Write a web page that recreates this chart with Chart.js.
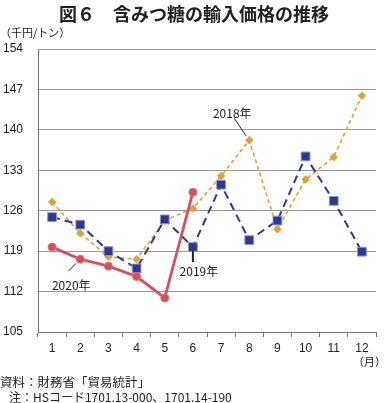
<!DOCTYPE html>
<html><head><meta charset="utf-8">
<script src="https://cdn.jsdelivr.net/npm/chart.js@4/dist/chart.umd.min.js"></script>
<style>
html,body{margin:0;padding:0;background:#fff;}
#wrap{position:relative;width:388px;height:403px;overflow:hidden;font-family:"Noto Sans CJK JP","Noto Sans",sans-serif;color:#222;}
#c{position:absolute;left:0;top:0;}
.t{position:absolute;white-space:nowrap;}
#title{left:0;width:388px;top:1px;text-align:center;font-size:18px;font-weight:bold;line-height:24px;}
#unit{left:0;top:25px;font-size:11px;line-height:14px;}
#mon{right:2px;top:354px;font-size:11px;line-height:14px;}
#src{left:0;top:374px;font-size:12.5px;line-height:15px;}
#note{left:9px;top:389px;font-size:12px;line-height:15px;}
</style></head>
<body><div id="wrap">
<canvas id="c" width="388" height="403"></canvas>
<div class="t" id="title">図６　含みつ糖の輸入価格の推移</div>
<div class="t" id="unit">（千円/トン）</div>
<div class="t" id="mon">（月）</div>
<div class="t" id="src">資料：財務省「貿易統計」</div>
<div class="t" id="note">注：HSコード1701.13-000、1701.14-190</div>
</div>
<script>
const months = ["1","2","3","4","5","6","7","8","9","10","11","12"];
const y2018 = [127.5,122.1,118.0,117.6,124.3,126.4,132.0,138.2,122.8,131.4,135.3,145.9];
const y2019 = [124.9,123.6,119.0,116.0,124.5,119.7,130.5,120.9,124.3,135.4,127.7,118.9];
const y2020 = [119.7,117.6,116.4,114.6,110.9,129.2];
const yTicks = [105,112,119,126,133,140,147,154];
const labels = {a:"2018年", b:"2019年", c:"2020年"};

const annot = {
  id:'annot',
  afterDatasetsDraw(chart){
    const {ctx, scales:{x,y}} = chart;
    ctx.save();
    ctx.font = '12px "Noto Sans CJK JP", sans-serif';
    ctx.fillStyle = '#222';
    ctx.textAlign = 'center';
    ctx.textBaseline = 'middle';
    // 2018
    let px = x.getPixelForValue(7), py = y.getPixelForValue(y2018[7]);
    ctx.strokeStyle = '#222'; ctx.lineWidth = 1;
    ctx.beginPath(); ctx.moveTo(px-3,py-4); ctx.lineTo(px-15,py-22); ctx.stroke();
    ctx.fillText(labels.a, px-17, py-27);
    // 2019
    px = x.getPixelForValue(5); py = y.getPixelForValue(y2019[5]);
    ctx.lineWidth = 2;
    ctx.beginPath(); ctx.moveTo(px, py+4); ctx.lineTo(px, py+15); ctx.stroke();
    ctx.fillText(labels.b, px+6, py+24);
    // 2020
    px = x.getPixelForValue(1); py = y.getPixelForValue(y2020[1]);
    ctx.lineWidth = 1;
    ctx.beginPath(); ctx.moveTo(px-4,py+4); ctx.lineTo(px-12,py+12); ctx.stroke();
    ctx.fillText(labels.c, px-9, py+26);
    ctx.restore();
  }
};

new Chart(document.getElementById('c'), {
  type:'line',
  data:{
    labels:months,
    datasets:[
      {label:'2020年', data:y2020, borderColor:'#D4505C', backgroundColor:'#D4505C', borderWidth:2.8,
       pointStyle:'circle', pointRadius:4, pointBorderColor:'#E07078', pointBorderWidth:1, tension:0},
      {label:'2019年', data:y2019, borderColor:'#2E3894', backgroundColor:'#2E3894', borderWidth:2,
       borderDash:[8,5], pointStyle:'rect', pointRadius:6.2, pointBorderColor:'#8A94C8', pointBorderWidth:1, tension:0},
      {label:'2018年', data:y2018, borderColor:'#E3A038', backgroundColor:'#E3A038', borderWidth:1.6,
       borderDash:[4,3], pointStyle:'rectRot', pointRadius:4.2, pointBorderWidth:0, tension:0}
    ]
  },
  options:{
    responsive:false, animation:false,
    layout:{padding:{left:0, top:49, right:12, bottom:41}},
    plugins:{legend:{display:false}, tooltip:{enabled:false}, title:{display:false}},
    scales:{
      x:{
        offset:true,
        grid:{offset:true, drawOnChartArea:false, drawTicks:true, tickLength:5, color:'#777'},
        border:{display:true, color:'#777', width:1},
        ticks:{padding:4, color:'#222', font:{family:'"Liberation Sans", Arial, sans-serif', size:12}, maxRotation:0},
        afterFit(s){ s.height = 30; }
      },
      y:{
        min:105, max:154,
        afterBuildTicks(s){ s.ticks = yTicks.map(v=>({value:v})); },
        grid:{color:'#9a9a9a', lineWidth:1, drawTicks:false},
        border:{display:true, color:'#777', width:1},
        ticks:{padding:15, color:'#222', font:{family:'"Liberation Sans", Arial, sans-serif', size:12}},
        afterFit(s){ s.width = 38; }
      }
    }
  },
  plugins:[annot]
});
</script>
</body></html>
